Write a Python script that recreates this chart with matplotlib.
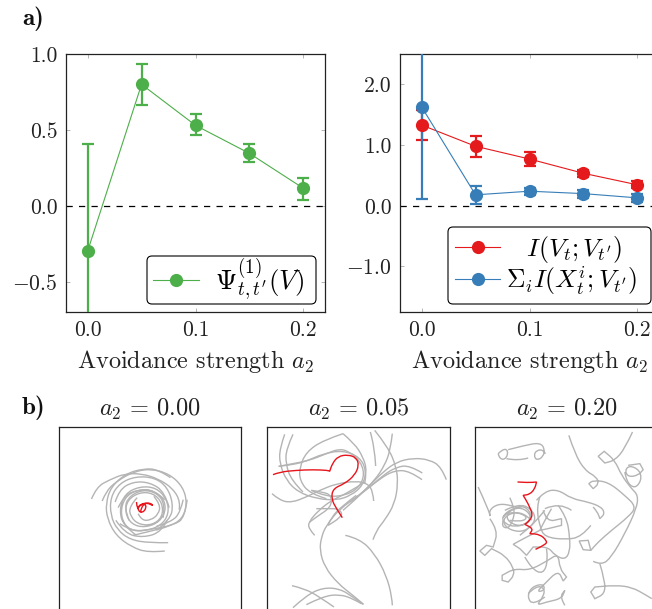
#!/bin/python
import matplotlib

matplotlib.use('Agg')

import matplotlib.pyplot as plt
from matplotlib.path import Path
from matplotlib.patches import PathPatch, FancyBboxPatch
from matplotlib.transforms import IdentityTransform

plt.rcParams['font.family'] = 'serif'
plt.rcParams['font.serif'] = ['cmr10']
plt.rcParams['mathtext.fontset'] = 'cm'
plt.rcParams['axes.unicode_minus'] = False
plt.rcParams['axes.formatter.use_mathtext'] = True

W, H = 652, 609

strength = [0.0, 0.05, 0.1, 0.15, 0.2]

psi = [-0.30, 0.80, 0.53, 0.345, 0.115]
psi_hi = [0.405, 0.934, 0.605, 0.405, 0.18]
psi_lo = [-1.0, 0.667, 0.465, 0.29, 0.04]

mi_v = [1.33, 0.98, 0.77, 0.535, 0.345]
mi_v_hi = [1.57, 1.15, 0.89, 0.59, 0.40]
mi_v_lo = [1.08, 0.80, 0.65, 0.475, 0.285]

mi_x = [1.63, 0.18, 0.24, 0.20, 0.13]
mi_x_hi = [3.2, 0.32, 0.30, 0.26, 0.20]
mi_x_lo = [0.115, 0.03, 0.175, 0.13, 0.065]

left_yticks = [-0.5, 0.0, 0.5, 1.0]
left_ylabels = ['$-0.5$', '0.0', '0.5', '1.0']
right_yticks = [-1.0, 0.0, 1.0, 2.0]
right_ylabels = ['$-1.0$', '0.0', '1.0', '2.0']
xticks = [0.0, 0.1, 0.2]
xlabels = ['0.0', '0.1', '0.2']

GREEN = '#4daf4a'
RED = '#e41a1c'
BLUE = '#377eb8'
GRAY = '#b5b5b5'

# trajectories (units of 1/3 pixel)
# a point typed twice is a sharp corner
gray_000 = [
    [(125,236),(140,200),(180,178),(225,160),(275,160),(325,175),(370,205),(392,245),(388,268)],
    [(157,242),(170,210),(205,180),(250,155),(300,145),(358,160),(400,200),(412,250),(398,295),(360,318),(300,333),(250,345)],
    [(345,392),(295,397),(245,380),(198,345),(172,295),(168,250),(183,200),(228,160),(280,145),(325,147),(362,172)],
    [(355,367),(300,368),(240,358),(202,328),(182,285),(182,230),(210,188),(258,168),(315,172),(352,200),(370,250),(362,298),(320,330)],
    [(260,345),(222,318),(208,270),(225,220),(270,198),(320,202),(352,238),(357,280),(335,315),(285,333),(240,330),(215,298),(215,252),(240,216),(292,205),(336,226),(350,265),(330,305),(285,322),(245,312),(226,278),(232,240),(268,216),(310,218),(338,248),(338,290),(308,314),(268,313),(242,290),(238,258),(262,232)],
    [(205,262),(222,226),(265,208),(312,208),(345,238)],
    [(210,310),(245,333),(300,328),(372,314),(405,292),(412,238)],
    [(265,280),(275,300),(302,300),(326,282),(332,252),(312,228)],
    [(198,300),(225,340),(280,352),(335,335),(352,300)],
    [(238,300),(222,262),(240,226),(280,208),(322,218),(346,252),(340,292)],
    [(196,245),(208,208),(250,184),(300,186),(345,215),(358,262)],
    [(400,238),(392,275),(365,305),(320,318)],
]
red_000 = [(260,245),(262,270),(272,252),(292,247),(313,258),(300,247),(285,250),(265,255),(265,272),(278,278),(290,262),(285,250),(275,260),(272,275)]

gray_005 = [
    [(75,42),(60,85),(60,130),(80,180),(115,215),(170,235),(230,240),(275,225),(310,195),(320,150),(300,110),(250,90),(190,100),(135,125),(85,135),(57,138)],
    [(100,42),(80,85),(78,130),(95,180),(130,215)],
    [(250,40),(190,60),(140,95),(120,140),(120,180),(150,220),(200,235)],
    [(250,40),(285,70),(310,110),(322,150),(315,190)],
    [(345,30),(385,80),(410,140),(415,190),(405,250),(375,300),(350,330),(340,358)],
    [(332,35),(345,80),(348,137)],
    [(398,40),(392,90),(375,135),(345,180),(300,225),(240,265),(200,315),(185,350),(180,390),(195,440),(235,490),(280,525),(312,552)],
    [(560,178),(545,140),(510,118),(460,113),(410,125),(370,155),(330,195),(285,240),(250,270)],
    [(488,158),(450,135),(410,140),(370,165),(320,210),(270,245)],
    [(487,178),(450,152),(405,150),(360,175),(310,215)],
    [(37,220),(60,240),(95,247),(140,230),(180,210),(230,190),(290,182),(325,190),(340,215),(342,242)],
    [(165,345),(147,325),(147,305),(175,272),(215,240),(270,215),(315,185)],
    [(257,345),(300,355),(345,400),(380,465),(397,530),(398,555)],
    [(97,496),(135,505),(180,530),(223,560)],
    [(100,562),(140,525),(190,502),(240,505),(280,530),(310,552)],
    [(140,553),(190,528),(240,522),(280,535),(305,550)],
    [(57,138),(100,130),(150,120),(200,100),(240,85),(270,95),(300,120),(315,160),(300,200),(260,225),(200,230),(155,210)],
    [(205,315),(215,290),(250,255),(290,225)],
    [(170,265),(200,265),(240,265),(250,290),(205,315)],
    [(155,210),(190,215),(215,225),(215,260),(170,290),(150,305)],
]
red_005 = [(40,163),(60,155),(110,150),(160,148),(205,150),(210,153),(210,153),(218,130),(235,108),(265,103),(290,112),(298,135),(285,165),(255,190),(220,205),(215,235),(230,265),(248,292)]

gray_020 = [
    [(312,45),(330,100),(360,150),(395,170),(402,190),(385,205),(385,205),(372,190),(372,190),(385,180),(430,185),(480,225),(515,260),(490,290),(440,330),(400,365),(378,390),(378,390),(355,388),(355,388),(343,362),(343,362),(370,360),(370,360),(378,390)],
    [(503,35),(480,85),(450,120),(420,128),(420,128),(400,108),(400,108),(418,93),(418,93),(450,120),(470,165),(500,205),(520,225),(515,265),(480,340),(440,410),(410,435),(385,423)],
    [(405,430),(420,480),(420,520),(390,535),(390,535),(378,515),(378,515),(390,500),(390,500),(450,495),(500,500),(545,525),(561,535)],
    [(100,100),(115,85),(130,90),(125,115),(105,118),(100,100)],
    [(125,115),(160,122),(190,113)],
    [(130,88),(180,75),(225,67),(240,85),(235,110),(215,120),(207,105),(215,90),(235,88),(242,100)],
    [(490,135),(525,130),(525,130),(535,148),(535,148),(520,165),(490,170),(480,150),(495,135),(525,150),(530,180),(510,205),(485,185),(480,155)],
    [(530,165),(561,210)],
    [(40,200),(70,265),(78,295),(72,270),(100,250),(140,255),(170,265)],
    [(115,290),(135,270),(170,260),(200,285),(190,310),(150,320),(120,310),(110,290),(140,265),(180,255),(205,290),(170,320),(130,305),(125,280),(155,275),(190,290),(170,305),(135,300)],
    [(120,270),(160,250),(200,265),(215,300),(180,335),(135,330),(112,305),(130,280),(175,275),(200,300)],
    [(135,232),(150,265),(145,300),(130,325),(110,318),(115,300)],
    [(75,295),(100,330),(85,380),(85,380),(65,375),(65,375),(45,392),(45,392),(60,405),(60,405),(80,385),(80,385),(120,405),(145,440),(148,465),(130,485),(130,485),(112,480),(112,480),(112,465),(112,465),(148,445),(195,450),(250,420),(280,400),(285,445),(305,470),(305,470),(295,482),(295,482),(280,450),(240,490),(215,515),(240,510),(235,490),(200,500),(187,530),(205,555),(240,530)],
    [(215,240),(240,212),(280,208),(320,235),(370,245),(410,260),(420,280),(405,295),(405,295),(398,275),(385,260)],
    [(225,230),(215,260),(225,320),(240,350),(300,358),(350,350),(378,315)],
    [(240,265),(285,245),(320,270)],
    [(260,265),(240,300),(225,330),(225,330),(250,325),(290,315),(290,315),(290,295),(290,295),(245,305),(235,270)],
    [(280,255),(305,290),(315,350),(315,395),(300,418),(270,405),(250,380),(205,380),(205,380),(185,405),(185,405),(165,385),(165,385),(145,372),(145,372),(185,350),(225,330)],
    [(180,410),(200,445),(235,462),(250,420),(245,385)],
    [(190,520),(215,495),(240,505),(235,530),(215,555),(245,545),(290,535),(300,510),(300,510),(285,530),(300,555)],
    [(165,345),(190,325),(215,300),(240,270)],
]
red_020 = [(158,185),(190,187),(215,185),(215,185),(210,205),(195,222),(175,225),(175,225),(190,250),(205,285),(190,305),(180,312),(180,312),(205,325),(195,340),(195,340),(225,342),(245,360),(245,372),(212,387)]
red_020_tip = [(180,198),(205,195)]


def px_axes(fig, x0, y0, x1, y1):
    return fig.add_axes([x0/W, 1-y1/H, (x1-x0)/W, (y1-y0)/H])


def smooth_path(pts):
    # quadratic segments, the typed points are the control points
    verts = [pts[0]]
    codes = [Path.MOVETO]
    for a, b in zip(pts[1:-1], pts[2:]):
        verts += [a, ((a[0]+b[0])/2.0, (a[1]+b[1])/2.0)]
        codes += [Path.CURVE3, Path.CURVE3]
    verts[-1] = pts[-1]
    return Path(verts, codes)


def draw_series(ax, y, hi, lo, color, label):
    yerr = [[a-b for a, b in zip(y, lo)], [b-a for a, b in zip(y, hi)]]
    ax.errorbar(strength, y, yerr=yerr, fmt='none', ecolor=color, elinewidth=1.6,
                capsize=4, capthick=1.6, zorder=3)
    ax.plot(strength, y, color=color, linewidth=0.8, marker='o', markersize=9.5,
            markeredgewidth=0, label=label, zorder=4)


def style_top(ax, yticks, ylabels, ylim):
    ax.set_xlim(-0.02, 0.22)
    ax.set_ylim(*ylim)
    ax.set_xticks(xticks, xlabels)
    ax.set_yticks(yticks, ylabels)
    ax.tick_params(axis='both', which='major', direction='in', length=3.2, width=0.7,
                   color=GRAY, top=True, right=True, labelsize=15.5, pad=6,
                   labelcolor='#222222')
    ax.axhline(0, color='black', linewidth=0.9, dashes=(5, 5), zorder=2)
    ax.set_xlabel('Avoidance strength $a_2$', fontsize=17.5, labelpad=6, color='#222222')
    for s in ax.spines.values():
        s.set_linewidth(0.9)
        s.set_color('#222222')


def style_traj(ax, x0, y0, title):
    ax.set_xlim(x0, x0+549)
    ax.set_ylim(y0+549, y0)
    ax.set_xticks([])
    ax.set_yticks([])
    for s in ax.spines.values():
        s.set_linewidth(0.9)
        s.set_color('#222222')
    ax.set_title(title, fontsize=17.5, pad=8, color='#222222')


def legend_in_box(ax, box, center, size, **kw):
    # the frame is drawn apart, a legend frame has the same padding on all sides
    x0, y0, x1, y1 = box
    ax.add_patch(FancyBboxPatch((x0, H-y1), x1-x0, y1-y0, boxstyle='round,pad=0,rounding_size=5',
                                facecolor='white', edgecolor='black', linewidth=0.8,
                                transform=IdentityTransform(), clip_on=False, zorder=4.5))
    ax.legend(loc='center', bbox_to_anchor=(center[0]/W, 1-center[1]/H),
              bbox_transform=fig.transFigure, borderaxespad=0, borderpad=0, fontsize=size,
              frameon=False, **kw)


fig = plt.figure(figsize=(W/100.0, H/100.0), dpi=100)

ax = px_axes(fig, 66, 54, 325, 312)
draw_series(ax, psi, psi_hi, psi_lo, GREEN, r"$\Psi^{(1)}_{t,t'}(V)$")
style_top(ax, left_yticks, left_ylabels, (-0.7, 1.0))
legend_in_box(ax, (147, 256, 316, 304), (229, 280), 19.5, handlelength=1.7, handletextpad=0.6)

ax = px_axes(fig, 400, 54, 659, 312)
draw_series(ax, mi_v, mi_v_hi, mi_v_lo, RED, r"  $\,I(V_t;V_{t'})$")
draw_series(ax, mi_x, mi_x_hi, mi_x_lo, BLUE, r"$\Sigma_i I(X^i_t;V_{t'})$")
style_top(ax, right_yticks, right_ylabels, (-1.75, 2.5))
legend_in_box(ax, (448, 227, 651, 304), (546.5, 265.5), 18.5, handlelength=1.75,
              handletextpad=0.23, labelspacing=0.0)

panels = [
    (58.5, 241.5, 26, 20, r'$a_2\,=\,0.00$', gray_000, [red_000]),
    (267, 450, 22, 20, r'$a_2\,=\,0.05$', gray_005, [red_005]),
    (475.5, 658.5, 32, 20, r'$a_2\,=\,0.20$', gray_020, [red_020, red_020_tip]),
]
for x0, x1, ux, uy, title, grays, reds in panels:
    ax = px_axes(fig, x0, 427, x1, 610)
    style_traj(ax, ux, uy, title)
    for p in grays:
        ax.add_patch(PathPatch(smooth_path(p), fill=False, edgecolor='#b4b4b4', linewidth=1.0))
    for p in reds:
        ax.add_patch(PathPatch(smooth_path(p), fill=False, edgecolor='#e8141c', linewidth=1.0))

fig.text(22/W, 1-25/H, 'a)', family='cmb10', fontsize=18, color='#111111')
fig.text(22/W, 1-414/H, 'b)', family='cmb10', fontsize=18, color='#111111')

fig.savefig('out.png', dpi=100)
